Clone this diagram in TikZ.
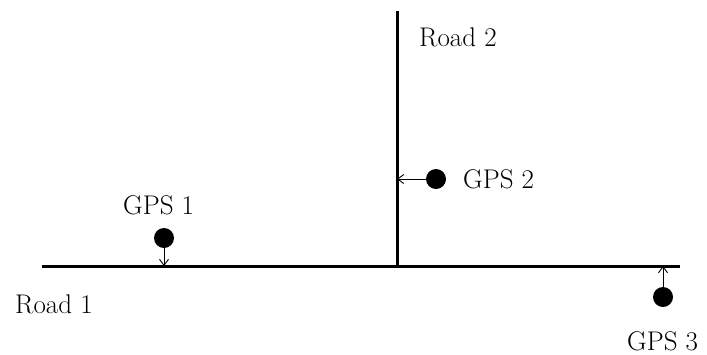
\documentclass[tikz,border=0pt]{standalone}
\usetikzlibrary{arrows.meta}
\begin{document}
\begin{tikzpicture}[x=1pt,y=-1pt,
  road/.style={line width=3pt},
  gpsdot/.style={circle,fill=black,minimum size=20pt,inner sep=0pt},
  lbl/.style={anchor=base west,inner sep=0pt,font=\fontsize{27}{32}\selectfont},
  ptr/.style={line width=0.9pt,-{Straight Barb[length=6pt,width=9pt,line width=0.9pt]}}]
\useasboundingbox (0,0) rectangle (707,354);
% roads
\coordinate (r1w) at (42,266);
\coordinate (r1e) at (680,266);
\coordinate (r2n) at (397,11);
\coordinate (r2s) at (397,266);
\draw[road] (r1w) -- (r1e);
\draw[road] (r2n) -- (r2s);
% road labels
\node[lbl] (road1) at (15,313) {Road 1};
\node[lbl] (road2) at (419,46) {Road 2};
% GPS points
\node[gpsdot] (g1) at (164,238) {};
\node[gpsdot] (g2) at (436,179) {};
\node[gpsdot] (g3) at (663,297) {};
\coordinate (p1) at (164,266);
\coordinate (p2) at (397,179);
\coordinate (p3) at (663,266);
\draw[ptr] (g1.south) -- (p1);
\draw[ptr] (g2.west) -- (p2);
\draw[ptr] (g3.north) -- (p3);
% GPS labels
\node[lbl] (l1) at (123,214) {GPS 1};
\node[lbl] (l2) at (463,188) {GPS 2};
\node[lbl] (l3) at (627,350) {GPS 3};
\end{tikzpicture}
\end{document}
